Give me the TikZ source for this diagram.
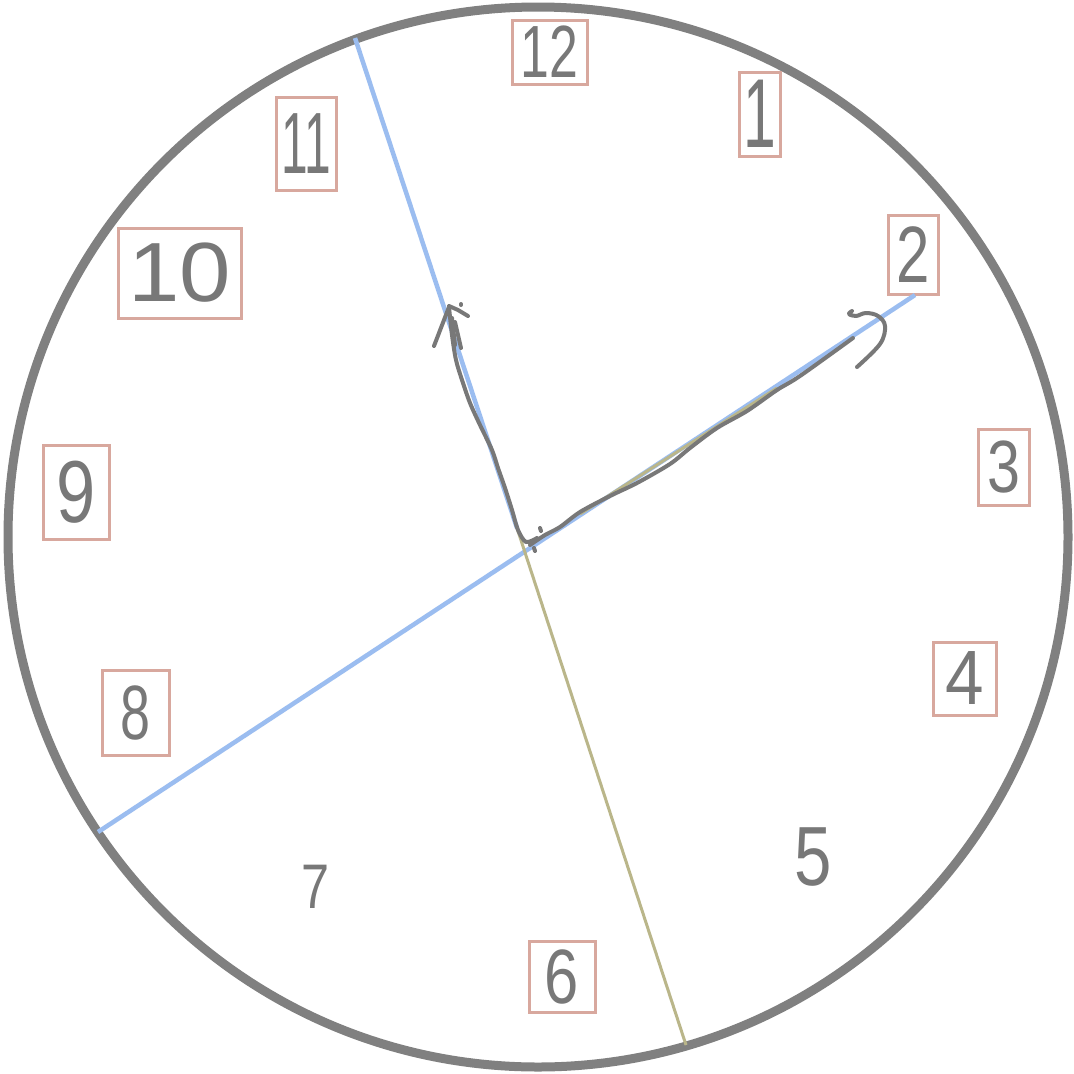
\documentclass[tikz,border=0pt]{standalone}
\usepackage{fontspec}
\setmainfont{Liberation Sans}
\usepackage{graphicx}
\definecolor{rim}{HTML}{808080}
\definecolor{boxc}{HTML}{D8A89E}
\definecolor{bluel}{HTML}{9BBDF0}
\definecolor{khaki}{HTML}{BAB68A}
\definecolor{ink}{HTML}{787878}
\newcommand\handdig[3]{\scalebox{#2}[1]{\fontsize{#1}{#1}\selectfont #3}}
\tikzset{
  numbox/.style={draw=boxc, line width=3pt, inner sep=0pt, text=ink},
  freenum/.style={inner sep=0pt, text=ink},
  hand/.style={draw=ink, line width=4pt, line cap=round, line join=round},
  blueline/.style={draw=bluel, line width=4.5pt},
  khakiline/.style={draw=khaki, line width=3pt},
}
\begin{document}
\begin{tikzpicture}[x=1pt,y=-1pt]
\useasboundingbox (0,0) rectangle (1074,1074);
\fill[white] (0,0) rectangle (1074,1074);
% clock rim
\draw[rim, line width=9pt] (538,537) circle (530);
% named points on the rim
\coordinate (r11) at (355,38);
\coordinate (r6) at (686,1045);
\coordinate (r8) at (98,832);
\coordinate (x1) at (517,528);
\coordinate (k1) at (580,514);
\coordinate (k2) at (777,388);
% numbers
\node[numbox, minimum width=75pt, minimum height=64pt] (n12) at (549.5,52) {\handdig{74}{0.7}{12}};
\node[numbox, minimum width=41pt, minimum height=84pt] (n1) at (759.5,114) {\handdig{98}{0.6}{1}};
\node[numbox, minimum width=50pt, minimum height=79pt] (n2) at (913,254.5) {\handdig{80}{0.75}{2}};
\node[numbox, minimum width=51pt, minimum height=76pt] (n3) at (1003.5,467) {\handdig{74}{0.8}{3}};
\node[numbox, minimum width=63pt, minimum height=73pt] (n4) at (964.5,678.5) {\handdig{77}{0.9}{4}};
\node[freenum] (n5) at (813,857) {\handdig{84}{0.8}{5}};
\node[numbox, minimum width=66pt, minimum height=71pt] (n6) at (562,976.5) {\handdig{77}{0.8}{6}};
\node[freenum] (n7) at (316,887) {\handdig{63}{0.8}{7}};
\node[numbox, minimum width=67pt, minimum height=85pt] (n8) at (135.5,712.5) {\handdig{77}{0.7}{8}};
\node[numbox, minimum width=66pt, minimum height=94pt] (n9) at (76,492) {\handdig{88}{0.8}{9}};
\node[numbox, minimum width=123pt, minimum height=90pt] (n10) at (179.5,273) {\handdig{84}{1.1}{10}};
\node[numbox, minimum width=60pt, minimum height=93pt] (n11) at (306,143.5) {\handdig{87}{0.55}{11}};
% straight lines
\coordinate (n2c) at (915,295);
\draw[blueline] (r8) -- (n2c);
\draw[khakiline] (k1) -- (k2);
\draw[khakiline] (x1) -- (r6);
\draw[blueline] (r11) -- (x1);
% minute hand (hand drawn)
\draw[hand] plot[smooth, tension=0.5] coordinates {(537,538) (526,542) (518,530) (512,510) (505,488) (498,468) (492,450) (480,425) (470,403) (462,380) (456,360) (452,335) (449,307)};
\draw[hand] (449,307) -- (434,346);
\draw[hand] (449,306) -- (458,310) -- (468,316);
\draw[hand] (455,322) -- (461,348);
\draw[hand] (452,318) -- (455,345);
\draw[hand] (461,304) -- (461,305);
\draw[hand] (540,528) -- (541,531);
\draw[hand] (534,548) -- (535,551);
% hour hand (hand drawn)
\draw[hand] plot[smooth, tension=0.5] coordinates {(530,545) (545,535) (560,527) (580,512) (610,496) (637,483) (670,464) (690,448) (717,428) (747,411) (777,390) (800,376) (853,338)};
\draw[hand] plot[smooth, tension=0.6] coordinates {(852,311) (849,314) (856,316) (866,313) (878,316) (885,326) (880,344) (857,367)};
\end{tikzpicture}
\end{document}
